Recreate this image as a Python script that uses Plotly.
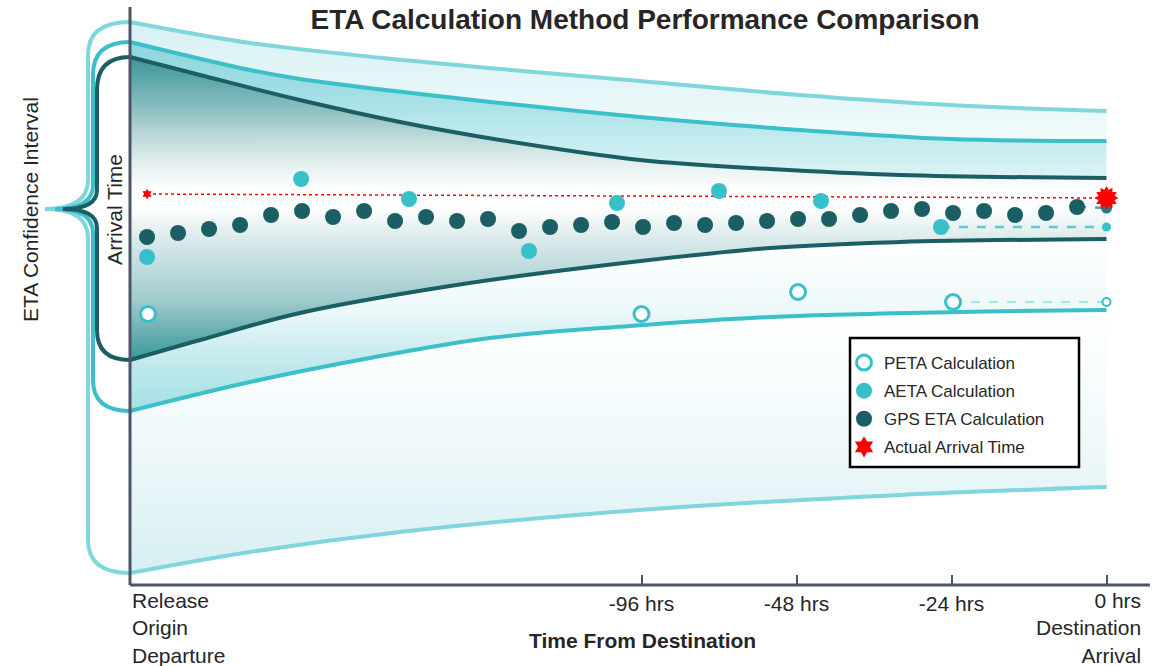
import plotly.graph_objects as go

# ---------------- data (x = update steps from Release, 0 hrs at 31.5) -------------
tick_x = [16.5, 21.5, 26.5, 31.5]
tick_text = ["-96 hrs", "-48 hrs", "-24 hrs", ""]
release_label = "Release<br>Origin<br>Departure"
arrival_label = "0 hrs<br>Destination<br>Arrival"

gps_x = [0.55, 1.55, 2.55, 3.55, 4.55, 5.55, 6.55, 7.55, 8.55, 9.55, 10.55,
         11.55, 12.55, 13.55, 14.55, 15.55, 16.55, 17.55, 18.55, 19.55, 20.55,
         21.55, 22.55, 23.55, 24.55, 25.55, 26.55, 27.55, 28.55, 29.55, 30.55]
gps_y = [348, 352, 356, 360, 370, 374, 368, 374, 364, 368, 364, 366, 354, 358,
         360, 363, 358, 362, 360, 362, 364, 366, 366, 370, 374, 376, 372, 374,
         370, 372, 378]
gps_end_x = 31.5
gps_end_y = 377

aeta_x = [0.55, 5.52, 9.0, 12.87, 15.71, 19.0, 22.29, 26.16]
aeta_y = [328, 406, 386, 334, 382, 394, 384, 358]
aeta_end_y = 358

peta_x = [0.58, 16.5, 21.55, 26.55]
peta_y = [271, 271, 293, 283]
peta_end_y = 283

actual_x = [0.55, 31.5]
actual_y = [391, 387]

# funnel boundaries (confidence interval envelopes)
outer_top_x = [0, 3.87, 8.16, 11.94, 16.45, 21.61, 26.45, 31.5]
outer_top_y = [563, 542, 527, 516, 504, 490, 480, 474]
middle_top_x = [0, 3.87, 5.48, 11.94, 16.45, 21.61, 26.45, 31.5]
middle_top_y = [543, 515, 506, 482, 468, 455, 446, 444]
inner_top_x = [0, 2.26, 5.48, 8.71, 11.94, 16.45, 20.65, 24.84, 31.5]
inner_top_y = [528, 510, 485, 463, 445, 425, 416, 410, 407]
inner_bot_x = [0, 2.26, 5.48, 10.32, 14.84, 20.65, 24.84, 31.5]
inner_bot_y = [225, 245, 272, 299, 318, 337, 343, 346]
middle_bot_x = [0, 3.87, 7.74, 11.61, 16.13, 20.65, 26.77, 31.5]
middle_bot_y = [174, 203, 227, 247, 259, 268, 273, 275]
outer_bot_x = [0, 3.87, 8.71, 16.45, 24.84, 31.5]
outer_bot_y = [12, 33, 53, 75, 90, 98]

# ---------------- style ---------------------------------------------------------
FONT = "Liberation Sans, Arial, sans-serif"
TXT = "#262626"
AX = "#4b5567"
C_OUT = "#80d6dc"
C_MID = "#3bbfc8"
C_IN = "#1b5e63"
C_AETA = "#38c0c9"

fig = go.Figure()


def fill_trace(x, y, fill, grad, start, stop):
    kw = dict(x=x, y=y, mode="lines", line=dict(width=0, shape="spline"),
              hoverinfo="skip", showlegend=False)
    if fill:
        kw["fill"] = "tonexty"
        kw["fillgradient"] = dict(type="vertical", colorscale=grad,
                                  start=start, stop=stop)
    fig.add_trace(go.Scatter(**kw))


fill_trace(outer_bot_x, outer_bot_y, False, None, None, None)
fill_trace(middle_bot_x, middle_bot_y, True,
           [[0, "#d6eff2"], [0.55, "#f2fafb"], [1, "#ffffff"]], 12, 275)
fill_trace(inner_bot_x, inner_bot_y, True,
           [[0, "#a2e0e4"], [0.3, "#c4eaed"], [0.6, "#eef9fa"], [1, "#ffffff"]], 174, 346)
fill_trace(inner_top_x, inner_top_y, True,
           [[0, "#3d999d"], [0.066, "#5ba8ab"], [0.198, "#a0cbcd"], [0.396, "#dae9ea"],
            [0.495, "#fbfdfd"], [0.56, "#ffffff"], [0.66, "#e0eded"], [0.759, "#b2d3d4"],
            [0.858, "#7db8bb"], [1, "#3b9598"]], 225, 528)
fill_trace(middle_top_x, middle_top_y, True,
           [[0, "#dcf3f5"], [0.272, "#c4ecef"], [0.6, "#a3e0e5"], [1, "#8bd6dc"]], 407, 543)
fill_trace(outer_top_x, outer_top_y, True,
           [[0, "#f1fafb"], [1, "#d7f1f4"]], 444, 563)

for xs, ys, c in [(outer_bot_x, outer_bot_y, C_OUT), (outer_top_x, outer_top_y, C_OUT),
                  (middle_bot_x, middle_bot_y, C_MID), (middle_top_x, middle_top_y, C_MID),
                  (inner_bot_x, inner_bot_y, C_IN), (inner_top_x, inner_top_y, C_IN)]:
    fig.add_trace(go.Scatter(x=xs, y=ys, mode="lines",
                             line=dict(color=c, width=4, shape="spline"),
                             hoverinfo="skip", showlegend=False))

# dashed connectors to the destination
fig.add_trace(go.Scatter(x=[peta_x[-1], gps_end_x], y=[peta_y[-1], peta_end_y], mode="lines",
                         line=dict(color="#a6e3e8", width=2, dash="dash"),
                         hoverinfo="skip", showlegend=False))
fig.add_trace(go.Scatter(x=[aeta_x[-1], gps_end_x], y=[aeta_y[-1], aeta_end_y], mode="lines",
                         line=dict(color="#5ccad2", width=2.5, dash="dash"),
                         hoverinfo="skip", showlegend=False))
fig.add_trace(go.Scatter(x=[gps_x[-1], gps_end_x], y=[gps_y[-1], gps_end_y], mode="lines",
                         line=dict(color="#5b9fa3", width=2.5, dash="dash"),
                         hoverinfo="skip", showlegend=False))
fig.add_trace(go.Scatter(x=actual_x, y=actual_y, mode="lines",
                         line=dict(color="#ff0000", width=1.5, dash="dot"),
                         hoverinfo="skip", showlegend=False))

# end markers
fig.add_trace(go.Scatter(x=[gps_end_x], y=[peta_end_y], mode="markers",
                         marker=dict(size=8, color="white", line=dict(color=C_AETA, width=2)),
                         hoverinfo="skip", showlegend=False))
fig.add_trace(go.Scatter(x=[gps_end_x], y=[aeta_end_y], mode="markers",
                         marker=dict(size=9, color=C_AETA),
                         hoverinfo="skip", showlegend=False))
fig.add_trace(go.Scatter(x=[gps_end_x], y=[gps_end_y], mode="markers",
                         marker=dict(size=11, color="#2c7a80"),
                         hoverinfo="skip", showlegend=False))

# main series
fig.add_trace(go.Scatter(x=peta_x, y=peta_y, mode="markers", name="PETA Calculation",
                         legendgroup="peta",
                         marker=dict(size=15, color="white", line=dict(color=C_AETA, width=3))))
fig.add_trace(go.Scatter(x=aeta_x, y=aeta_y, mode="markers", name="AETA Calculation",
                         legendgroup="aeta",
                         marker=dict(size=16, color=C_AETA)))
fig.add_trace(go.Scatter(x=gps_x, y=gps_y, mode="markers", name="GPS ETA Calculation",
                         legendgroup="gps",
                         marker=dict(size=16, color=C_IN)))
fig.add_trace(go.Scatter(x=actual_x[:1], y=actual_y[:1], mode="markers",
                         marker=dict(size=8, color="#ff0000", symbol="hexagram"),
                         hoverinfo="skip", showlegend=False))
fig.add_trace(go.Scatter(x=actual_x[1:], y=actual_y[1:], mode="markers",
                         marker=dict(size=18, color="#ff0000", symbol="hexagram", angle=30),
                         hoverinfo="skip", showlegend=False))
fig.add_trace(go.Scatter(x=actual_x[1:], y=actual_y[1:], mode="markers",
                         name="Actual Arrival Time", legendgroup="actual",
                         marker=dict(size=18, color="#ff0000", symbol="hexagram")))

# ---------------- brackets (left side braces) -------------------------------------
tip_y = 376
brackets = [
    # (colour, arm x, tip x, top y, bottom y, top corner, tip corner, bottom corner)
    (C_OUT, -1.355, -2.742, outer_top_y[0], outer_bot_y[0], 33, 29, 33),
    (C_MID, -1.194, -2.419, middle_top_y[0], middle_bot_y[0], 33, 24, 31),
    (C_IN, -1.065, -2.161, inner_top_y[0], inner_bot_y[0], 33, 19, 30),
]
shapes = []
for c, ax, tx, top, bot, ct, cs, cb in brackets:
    path = (f"M 0,{top} Q {ax},{top} {ax},{top - ct} L {ax},{tip_y + cs} "
            f"Q {ax},{tip_y} {tx},{tip_y} Q {ax},{tip_y} {ax},{tip_y - cs} "
            f"L {ax},{bot + cb} Q {ax},{bot} 0,{bot}")
    shapes.append(dict(type="path", path=path, xref="x", yref="y",
                       line=dict(color=c, width=4), layer="above"))

# axis lines
shapes.append(dict(type="line", xref="x", yref="y", x0=0, x1=0, y0=0, y1=578,
                   line=dict(color=AX, width=3), layer="above"))
shapes.append(dict(type="line", xref="x", yref="y", x0=0, x1=32.9, y0=0, y1=0,
                   line=dict(color=AX, width=3), layer="above"))

# legend frame
shapes.append(dict(type="rect", xref="paper", yref="paper",
                   x0=(850 - 40) / 1110, x1=(1079 - 40) / 1110,
                   y0=(590 - 467) / 583, y1=(590 - 338) / 583,
                   line=dict(color="black", width=2.5), fillcolor="white", layer="above"))

annotations = [
    dict(text=release_label, x=0, y=-2, xref="x", yref="y", xanchor="left", yanchor="top",
         align="left", showarrow=False, font=dict(family=FONT, size=21, color=TXT)),
    dict(text=arrival_label, x=32.68, y=-2, xref="x", yref="y", xanchor="right", yanchor="top",
         align="right", showarrow=False, font=dict(family=FONT, size=21, color=TXT)),
    dict(text="<b>Time From Destination</b>", x=(642 - 40) / 1110, y=(590 - 640) / 583,
         xref="paper", yref="paper",
         xanchor="center", yanchor="middle", showarrow=False,
         font=dict(family=FONT, size=21, color=TXT)),
    dict(text="ETA Confidence Interval", x=-10 / 1110, y=375, xref="paper", yref="y",
         xanchor="center", yanchor="middle", textangle=-90, showarrow=False,
         font=dict(family=FONT, size=21, color=TXT)),
    dict(text="Arrival Time", x=-0.52, y=376, xref="x", yref="y",
         xanchor="center", yanchor="middle", textangle=-90, showarrow=False,
         font=dict(family=FONT, size=21, color=TXT)),
]

fig.update_layout(
    width=1158, height=666,
    margin=dict(l=40, r=8, t=7, b=76),
    paper_bgcolor="white", plot_bgcolor="white",
    title=dict(text="<b>ETA Calculation Method Performance Comparison</b>",
               x=645 / 1158, y=1 - 19 / 666, xref="container", yref="container",
               xanchor="center", yanchor="middle",
               font=dict(family=FONT, size=28, color=TXT)),
    xaxis=dict(range=[-2.9032, 32.9032], tickvals=tick_x, ticktext=tick_text,
               ticks="inside", ticklen=10, tickwidth=2, tickcolor=AX,
               showgrid=False, zeroline=False, showline=False,
               anchor="free", position=5 / 583, ticklabelstandoff=4,
               tickfont=dict(family=FONT, size=21, color=TXT)),
    yaxis=dict(range=[-5, 578], showticklabels=False, showgrid=False,
               zeroline=False, showline=False, ticks=""),
    showlegend=True,
    legend=dict(x=(844 - 40) / 1110, y=(590 - 345) / 583, xanchor="left", yanchor="top",
                bgcolor="rgba(0,0,0,0)", borderwidth=0, traceorder="grouped",
                tracegroupgap=3,
                font=dict(family=FONT, size=17, color=TXT)),
    shapes=shapes,
    annotations=annotations,
)

fig.write_html("out.html", config={"displayModeBar": False},
               post_script="document.body.style.margin='0px';")
